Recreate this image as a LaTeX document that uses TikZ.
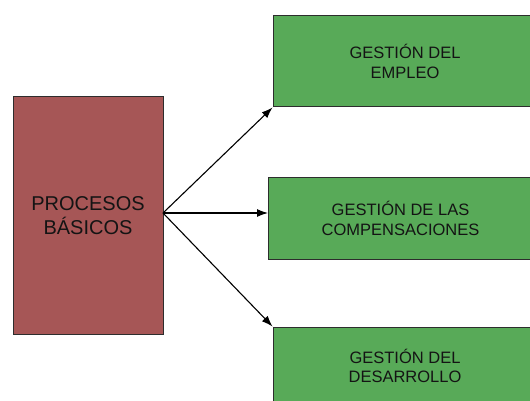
\documentclass[tikz,border=0pt]{standalone}
\usepackage{fontspec}
\setmainfont{Liberation Sans}
\usetikzlibrary{arrows.meta}
\definecolor{boxred}{RGB}{166,86,86}
\definecolor{boxgreen}{RGB}{88,170,88}
\definecolor{edge}{RGB}{45,45,45}
\definecolor{ink}{RGB}{20,20,20}
\tikzset{
  redbox/.style={draw=edge, line width=1pt, fill=boxred, text=ink, align=center,
    minimum width=150pt, minimum height=237pt, inner sep=0pt,
    font=\fontsize{20}{24}\selectfont},
  greenbox/.style={draw=edge, line width=1pt, fill=boxgreen, text=ink, align=center,
    minimum width=264pt, inner sep=0pt,
    font=\fontsize{16.5}{19.5}\selectfont},
  arr/.style={draw=black, line width=1.1pt, -{Latex[length=11pt,width=8pt]}}
}
\begin{document}
\begin{tikzpicture}[x=1pt,y=-1pt]
\useasboundingbox (0,0) rectangle (530,401);
\clip (0,0) rectangle (530,401);
\fill[white] (0,0) rectangle (530,401);
\node[redbox] (pb) at (88,215.5) {PROCESOS\\BÁSICOS};
\node[greenbox, minimum height=91pt] (emp) at (405,61.5) {GESTIÓN DEL\\EMPLEO};
\node[greenbox, minimum height=82pt] (comp) at (400.5,218.5) {GESTIÓN DE LAS\\COMPENSACIONES};
\node[greenbox, minimum height=78pt] (des) at (405,366) {GESTIÓN DEL\\DESARROLLO};
\coordinate (o) at (163,213);
\coordinate (cw) at (comp.west |- o);
\draw[arr] (o) -- (emp.south west);
\draw[arr] (o) -- (cw);
\draw[arr] (o) -- (des.north west);
\end{tikzpicture}
\end{document}
